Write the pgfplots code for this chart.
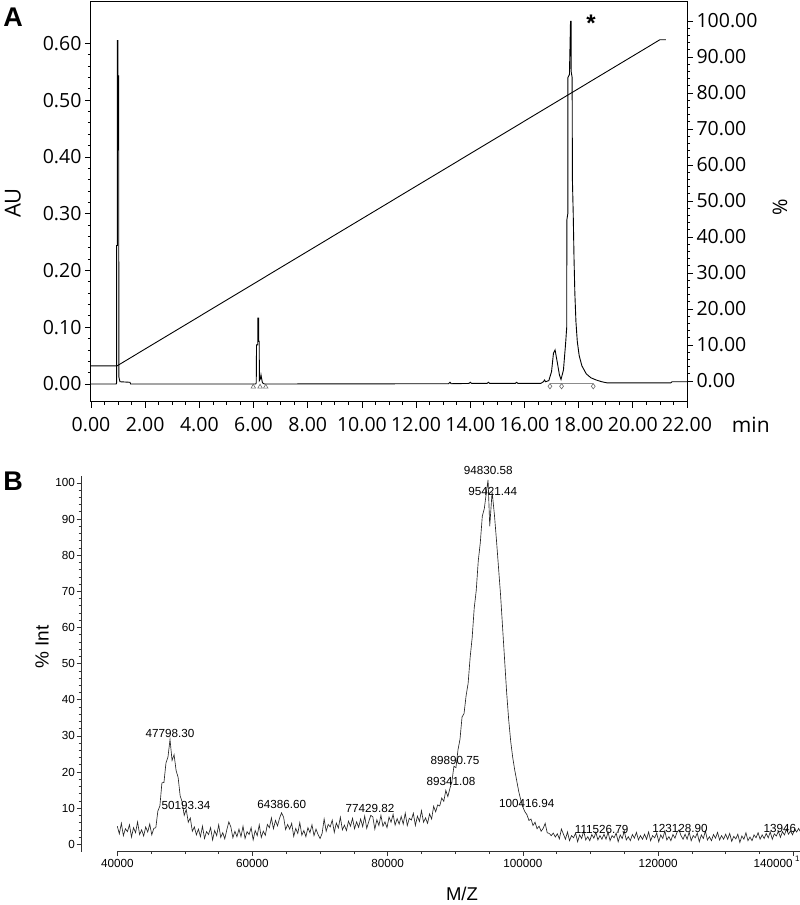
\documentclass[border=0pt]{standalone}
\usepackage{pgfplots}
\pgfplotsset{compat=1.18}
\usepackage{fontspec}
\setmainfont{Open Sans}
\newfontfamily\arialfont{Liberation Sans}
\begin{document}
\begin{tikzpicture}[x=1pt,y=1pt]
\useasboundingbox (0,0) rectangle (800,905);
% ---------------- Panel A ----------------
\begin{axis}[
  at={(91pt,503pt)}, anchor=south west, scale only axis,
  width=596pt, height=400pt,
  xmin=0, xmax=22, ymin=-0.0317, ymax=0.673,
  xtick={0,2,4,6,8,10,12,14,16,18,20,22}, minor x tick num=3,
  ytick={0,0.1,0.2,0.3,0.4,0.5,0.6}, minor y tick num=4,
  tick pos=left, tick align=outside,
  major tick length=6pt, minor tick length=3pt,
  every tick/.append style={black, line width=0.8pt},
  axis line style={black, line width=1pt},
  tick label style={font=\fontsize{19.5}{22}\selectfont},
  xticklabel style={yshift=-6pt, /pgf/number format/fixed, /pgf/number format/fixed zerofill, /pgf/number format/precision=2, /pgf/number format/assume math mode=true},
  yticklabel style={/pgf/number format/fixed, /pgf/number format/fixed zerofill, /pgf/number format/precision=2, /pgf/number format/assume math mode=true},
  scaled y ticks=false, scaled x ticks=false,
  xlabel={min}, ylabel={AU},
  every axis x label/.style={at={(axis description cs:1.107,-0.0575)}, anchor=center, font=\fontsize{21}{24}\selectfont},
  every axis y label/.style={at={(axis description cs:-0.131,0.4975)}, rotate=90, anchor=center, font=\fontsize{22}{25}\selectfont},
]
\addplot[black, line width=0.9pt] table[row sep=\\] {
x y\\
0 0\\ 0.93 0\\ 0.945 0.002\\ 0.948 0.244\\ 0.972 0.244\\ 0.975 0.605\\ 0.99 0.605\\ 0.993 0.543\\ 1.02 0.543\\ 1.03 0.012\\ 1.07 0.004\\ 1.44 0.003\\ 1.46 0\\
6.08 0\\ 6.10 0.002\\ 6.11 0.069\\ 6.155 0.069\\ 6.16 0.116\\ 6.185 0.116\\ 6.19 0.075\\ 6.21 0.075\\ 6.215 0.006\\ 6.25 0.009\\ 6.275 0.016\\ 6.30 0.009\\ 6.33 0.002\\ 6.40 0\\
13.2 0.0005\\ 13.25 0.003\\ 13.3 0.0005\\ 13.95 0.001\\ 14.0 0.003\\ 14.05 0.001\\ 14.62 0.001\\ 14.67 0.003\\ 14.72 0.001\\ 15.66 0.001\\ 15.71 0.003\\ 15.76 0.001\\
16.60 0.001\\ 16.70 0.004\\ 16.74 0.007\\ 16.78 0.004\\ 16.90 0.006\\ 17.00 0.022\\ 17.07 0.054\\ 17.13 0.060\\ 17.22 0.036\\ 17.29 0.016\\ 17.35 0.008\\ 17.44 0.025\\ 17.52 0.072\\ 17.56 0.10\\ 17.565 0.289\\ 17.60 0.30\\ 17.605 0.54\\ 17.66 0.545\\ 17.70 0.639\\ 17.72 0.639\\ 17.725 0.55\\ 17.76 0.54\\ 17.77 0.36\\ 17.80 0.30\\ 17.83 0.22\\ 17.86 0.16\\ 17.90 0.11\\ 17.95 0.075\\ 18.02 0.05\\ 18.12 0.032\\ 18.28 0.018\\ 18.45 0.011\\ 18.65 0.007\\ 18.85 0.004\\ 19.05 0.002\\ 21.40 0.002\\ 21.45 0.004\\ 22 0.004\\
};
\addplot[black!45, line width=0.8pt] coordinates {(16.94,0.0015) (18.54,0.0015)};
\addplot[only marks, mark=triangle, mark size=2.6pt, black!60, mark options={line width=0.6pt, fill=white}] coordinates {(5.99,-0.005) (6.24,-0.005) (6.45,-0.005)};
\addplot[only marks, mark=diamond, mark size=2.6pt, black!60, mark options={line width=0.6pt, fill=white}] coordinates {(16.94,-0.004) (17.37,-0.004) (18.54,-0.004)};
\node[font=\arialfont\bfseries\fontsize{24}{24}\selectfont] at (axis cs:18.46,0.635) {*};
\end{axis}
\begin{axis}[
  at={(91pt,503pt)}, anchor=south west, scale only axis,
  width=596pt, height=400pt,
  xmin=0, xmax=22, ymin=-5.83, ymax=105.28,
  axis y line*=right, axis x line=none,
  ytick={0,10,20,30,40,50,60,70,80,90,100}, minor y tick num=4,
  tick align=outside, major tick length=6pt, minor tick length=3pt,
  every tick/.append style={black, line width=0.8pt},
  axis line style={black, line width=1pt},
  tick label style={font=\fontsize{19.5}{22}\selectfont},
  yticklabel style={/pgf/number format/fixed, /pgf/number format/fixed zerofill, /pgf/number format/precision=2, /pgf/number format/assume math mode=true},
  ylabel={\%},
  every axis y label/.style={at={(axis description cs:1.156,0.4875)}, rotate=90, anchor=center, font=\fontsize{20}{24}\selectfont},
]
\addplot[black, line width=0.9pt] coordinates {(0,4.2) (0.96,4.2) (21.0,94.8) (21.22,94.8)};
\end{axis}
\node[font=\arialfont\bfseries\fontsize{27}{27}\selectfont] at (13,888) {A};
% ---------------- Panel B ----------------
\begin{axis}[
  at={(81pt,53.3pt)}, anchor=south west, scale only axis,
  width=5pt, height=375.7pt,
  xmin=0, xmax=1, ymin=-2.05, ymax=101.9,
  axis y line*=left, axis x line=none,
  ytick={0,10,20,30,40,50,60,70,80,90,100}, minor y tick num=4,
  tick align=outside, major tick length=4.5pt, minor tick length=2.5pt,
  every tick/.append style={black!80, line width=0.6pt},
  axis line style={black!80, line width=0.8pt},
  yticklabel style={font=\arialfont\fontsize{11.7}{14}\selectfont, /pgf/number format/assume math mode=true, inner sep=1.5pt},
]
\addplot[draw=none] coordinates {(0,0)};
\end{axis}
\begin{axis}[
  at={(117.3pt,53.3pt)}, anchor=south west, scale only axis,
  width=682.7pt, height=375.7pt,
  xmin=40000, xmax=141000, ymin=-2.05, ymax=101.9,
  axis x line*=bottom, axis y line=none,
  xtick={40000,60000,80000,100000,120000}, extra x ticks={140000},
  extra x tick style={xticklabel style={anchor=north east, xshift=3pt}},
  minor xtick={45000,50000,55000,65000,70000,75000,85000,90000,95000,105000,110000,115000,125000,130000,135000},
  tick align=outside, major tick length=4.5pt, minor tick length=2.5pt,
  every tick/.append style={black!80, line width=0.6pt},
  axis line style={black!80, line width=0.8pt},
  scaled x ticks=false,
  xticklabel style={font=\arialfont\fontsize{11.7}{14}\selectfont, /pgf/number format/fixed, /pgf/number format/set thousands separator={}, /pgf/number format/assume math mode=true},
  clip=false,
]
\addplot[black!85, line width=0.65pt] table[row sep=\\] {
x y\\
40000 5.0\\ 40300 2.9\\ 40600 5.8\\ 40900 2.4\\ 41200 4.3\\ 41500 3.5\\ 41800 5.4\\ 42100 2.0\\ 42400 4.6\\ 42700 3.2\\ 43000 6.2\\ 43300 2.7\\ 43600 4.0\\ 43900 2.3\\ 44200 4.8\\ 44500 3.4\\ 44800 5.6\\ 45100 2.6\\ 45400 4.4\\ 45700 4.6\\
46000 9.2\\ 46300 10.6\\ 46600 17.0\\ 46900 17.1\\ 47200 22.5\\ 47500 24.2\\ 47800 29.0\\ 48100 23.2\\ 48400 24.8\\ 48700 20.4\\ 49000 18.5\\ 49300 13.4\\ 49600 11.7\\ 49900 8.0\\ 50200 9.6\\ 50500 6.1\\ 50800 7.3\\ 51100 3.6\\ 51400 4.8\\ 51700 2.6\\
52000 4.2\\ 52300 2.1\\ 52600 5.0\\ 52900 1.6\\ 53200 3.5\\ 53500 2.7\\ 53800 4.6\\ 54100 1.2\\ 54400 3.8\\ 54700 2.4\\ 55000 5.4\\ 55300 1.9\\ 55600 3.2\\ 55900 1.5\\ 56200 4.0\\ 56500 6.2\\ 56800 4.8\\ 57100 1.8\\ 57400 3.6\\ 57700 2.1\\
58000 4.2\\ 58300 2.1\\ 58600 5.0\\ 58900 1.6\\ 59200 3.5\\ 59500 2.7\\ 59800 4.6\\ 60100 1.2\\ 60400 3.8\\ 60700 2.4\\ 61000 5.4\\ 61300 1.9\\ 61600 3.6\\
61900 2.5\\ 62200 5.5\\ 62500 4.6\\ 62800 7.3\\ 63100 4.3\\ 63400 6.6\\ 63700 5.1\\ 64000 7.2\\ 64300 8.7\\ 64600 7.5\\ 64900 4.1\\ 65200 5.5\\ 65500 4.2\\ 65800 5.8\\ 66100 2.2\\
66400 4.4\\ 66700 3.0\\ 67000 6.0\\ 67300 2.5\\ 67600 3.8\\ 67900 2.1\\ 68200 4.6\\ 68500 3.2\\ 68800 5.4\\ 69100 2.4\\ 69400 4.2\\ 69700 2.7\\ 70000 1.6\\ 70300 3.0\\
70600 7.0\\ 70900 3.6\\ 71200 5.5\\ 71500 4.8\\ 71800 6.7\\ 72100 3.3\\ 72400 5.9\\ 72700 4.5\\ 73000 7.5\\ 73300 4.0\\ 73600 5.3\\ 73900 3.8\\ 74200 6.4\\ 74500 5.0\\ 74800 7.2\\ 75100 4.3\\ 75400 6.2\\ 75700 4.7\\ 76000 7.0\\ 76300 4.9\\
76600 7.8\\ 76900 4.4\\ 77200 6.3\\ 77500 8.0\\ 77800 7.6\\ 78100 4.2\\ 78400 6.8\\ 78700 5.2\\ 79000 8.0\\ 79300 5.0\\ 79600 6.2\\ 79900 4.6\\
80200 7.5\\ 80500 6.1\\ 80800 8.3\\ 81100 5.3\\ 81400 7.1\\ 81700 5.6\\ 82000 7.7\\ 82300 5.6\\ 82600 8.6\\ 82900 5.2\\ 83200 7.2\\ 83500 6.7\\ 83800 8.6\\ 84100 5.2\\ 84400 7.8\\ 84700 6.3\\ 85000 9.3\\ 85300 6.1\\ 85600 7.3\\ 85900 5.8\\ 86200 8.4\\ 86500 7.0\\
86800 10.5\\ 87100 9.0\\ 87400 10.9\\ 87700 10.6\\ 88000 12.8\\ 88300 11.9\\ 88600 14.9\\ 88900 13.2\\ 89200 15.4\\ 89500 17.3\\ 89800 21.6\\ 90100 21.2\\ 90400 26.1\\ 90700 29.1\\ 91000 35.2\\ 91300 36.2\\ 91600 41.1\\ 91900 44.5\\ 92200 51.7\\ 92500 57.2\\
92800 65.3\\ 93100 70.2\\ 93400 78.4\\ 93700 83.4\\ 94000 90.8\\ 94300 92.9\\ 94600 97.4\\ 94850 100.8\\ 95100 88.0\\ 95450 97.5\\ 95800 91.0\\ 96100 84.0\\ 96400 76.5\\ 96700 69.0\\ 97000 60.0\\ 97300 51.0\\ 97600 42.0\\ 97900 34.5\\ 98200 28.5\\ 98500 24.0\\
98800 20.5\\ 99100 17.5\\ 99400 14.5\\ 99700 12.2\\ 100000 10.3\\ 100300 9.0\\ 100600 8.2\\ 100900 6.6\\ 101200 7.0\\ 101500 5.2\\ 101800 6.1\\ 102100 4.3\\ 102400 5.0\\ 102700 3.6\\ 103000 4.4\\ 103300 5.8\\ 103600 3.2\\ 103900 3.0\\ 104200 2.4\\ 104500 3.1\\
104800 2.0\\ 105100 2.9\\ 105400 1.5\\ 105700 4.2\\
106000 2.8\\ 106300 1.4\\ 106600 3.4\\ 106900 1.0\\ 107200 2.4\\ 107500 1.8\\ 107800 3.1\\ 108100 0.7\\ 108400 2.6\\ 108700 1.6\\ 109000 3.7\\ 109300 1.2\\ 109600 2.1\\ 109900 1.0\\ 110200 2.7\\ 110500 1.7\\ 110800 3.3\\ 111100 1.2\\ 111400 2.4\\ 111700 1.4\\
112000 2.8\\ 112300 1.4\\ 112600 3.4\\ 112900 1.0\\ 113200 2.4\\ 113500 1.8\\ 113800 3.1\\ 114100 0.7\\ 114400 2.6\\ 114700 1.6\\ 115000 3.7\\ 115300 1.2\\ 115600 2.1\\ 115900 1.0\\ 116200 2.7\\ 116500 1.7\\ 116800 3.3\\ 117100 1.2\\ 117400 2.4\\ 117700 1.4\\
118000 2.8\\ 118300 1.4\\ 118600 3.4\\ 118900 1.0\\ 119200 2.4\\ 119500 1.8\\ 119800 3.1\\ 120100 0.7\\ 120400 2.6\\ 120700 1.6\\ 121000 3.7\\ 121300 1.2\\ 121600 2.1\\ 121900 1.0\\ 122200 2.7\\ 122500 1.7\\ 122800 3.3\\ 123100 4.0\\ 123400 2.4\\ 123700 1.4\\
124000 2.8\\ 124300 1.4\\ 124600 3.4\\ 124900 1.0\\ 125200 2.4\\ 125500 1.8\\ 125800 3.1\\ 126100 0.7\\ 126400 2.6\\ 126700 1.6\\ 127000 3.7\\ 127300 1.2\\ 127600 2.1\\ 127900 1.0\\ 128200 2.7\\ 128500 1.7\\ 128800 3.3\\ 129100 1.2\\ 129400 2.4\\ 129700 1.4\\
130000 2.8\\ 130300 1.4\\ 130600 3.0\\ 130900 0.8\\ 131200 2.2\\ 131500 1.5\\ 131800 2.8\\ 132100 0.5\\ 132400 2.3\\ 132700 1.4\\ 133000 3.2\\ 133300 1.0\\ 133600 2.0\\ 133900 1.0\\ 134200 2.6\\ 134500 1.8\\ 134800 3.2\\ 135100 1.4\\ 135400 2.6\\ 135700 1.6\\
136000 3.0\\ 136300 1.8\\ 136600 3.4\\ 136900 1.4\\ 137200 2.9\\ 137500 2.3\\ 137800 3.6\\ 138100 1.9\\ 138400 3.5\\ 138700 2.6\\ 139000 4.2\\ 139300 2.8\\ 139600 3.7\\ 139900 2.6\\ 140200 4.2\\ 140500 3.4\\ 140800 4.4\\ 141000 3.6\\
};
\begin{scope}[every node/.style={font=\arialfont\fontsize{11.7}{14}\selectfont, inner sep=0pt}]
\node at (axis cs:47800,30.7) {47798.30};
\node at (axis cs:50163,10.7) {50193.34};
\node at (axis cs:64320,10.9) {64386.60};
\node at (axis cs:77382,10.0) {77429.82};
\node at (axis cs:94880,103.3) {94830.58};
\node at (axis cs:95530,97.5) {95421.44};
\node at (axis cs:89955,23.3) {89890.75};
\node at (axis cs:89364,17.3) {89341.08};
\node at (axis cs:100560,11.4) {100416.94};
\node at (axis cs:111657,4.2) {111526.79};
\node at (axis cs:123240,4.5) {123128.90};
\node[anchor=west] at (axis cs:135570,4.5) {13946};
\end{scope}
\end{axis}
\node[font=\arialfont\fontsize{8}{9}\selectfont, anchor=north east, inner sep=0.3pt] at (800,50) {1};
\node[font=\arialfont\fontsize{19}{22}\selectfont, rotate=90] at (42,258) {\% Int};
\node[font=\arialfont\fontsize{18.5}{22}\selectfont] at (462,11) {M/Z};
\node[font=\arialfont\bfseries\fontsize{27}{27}\selectfont] at (13,423.3) {B};
\end{tikzpicture}
\end{document}
